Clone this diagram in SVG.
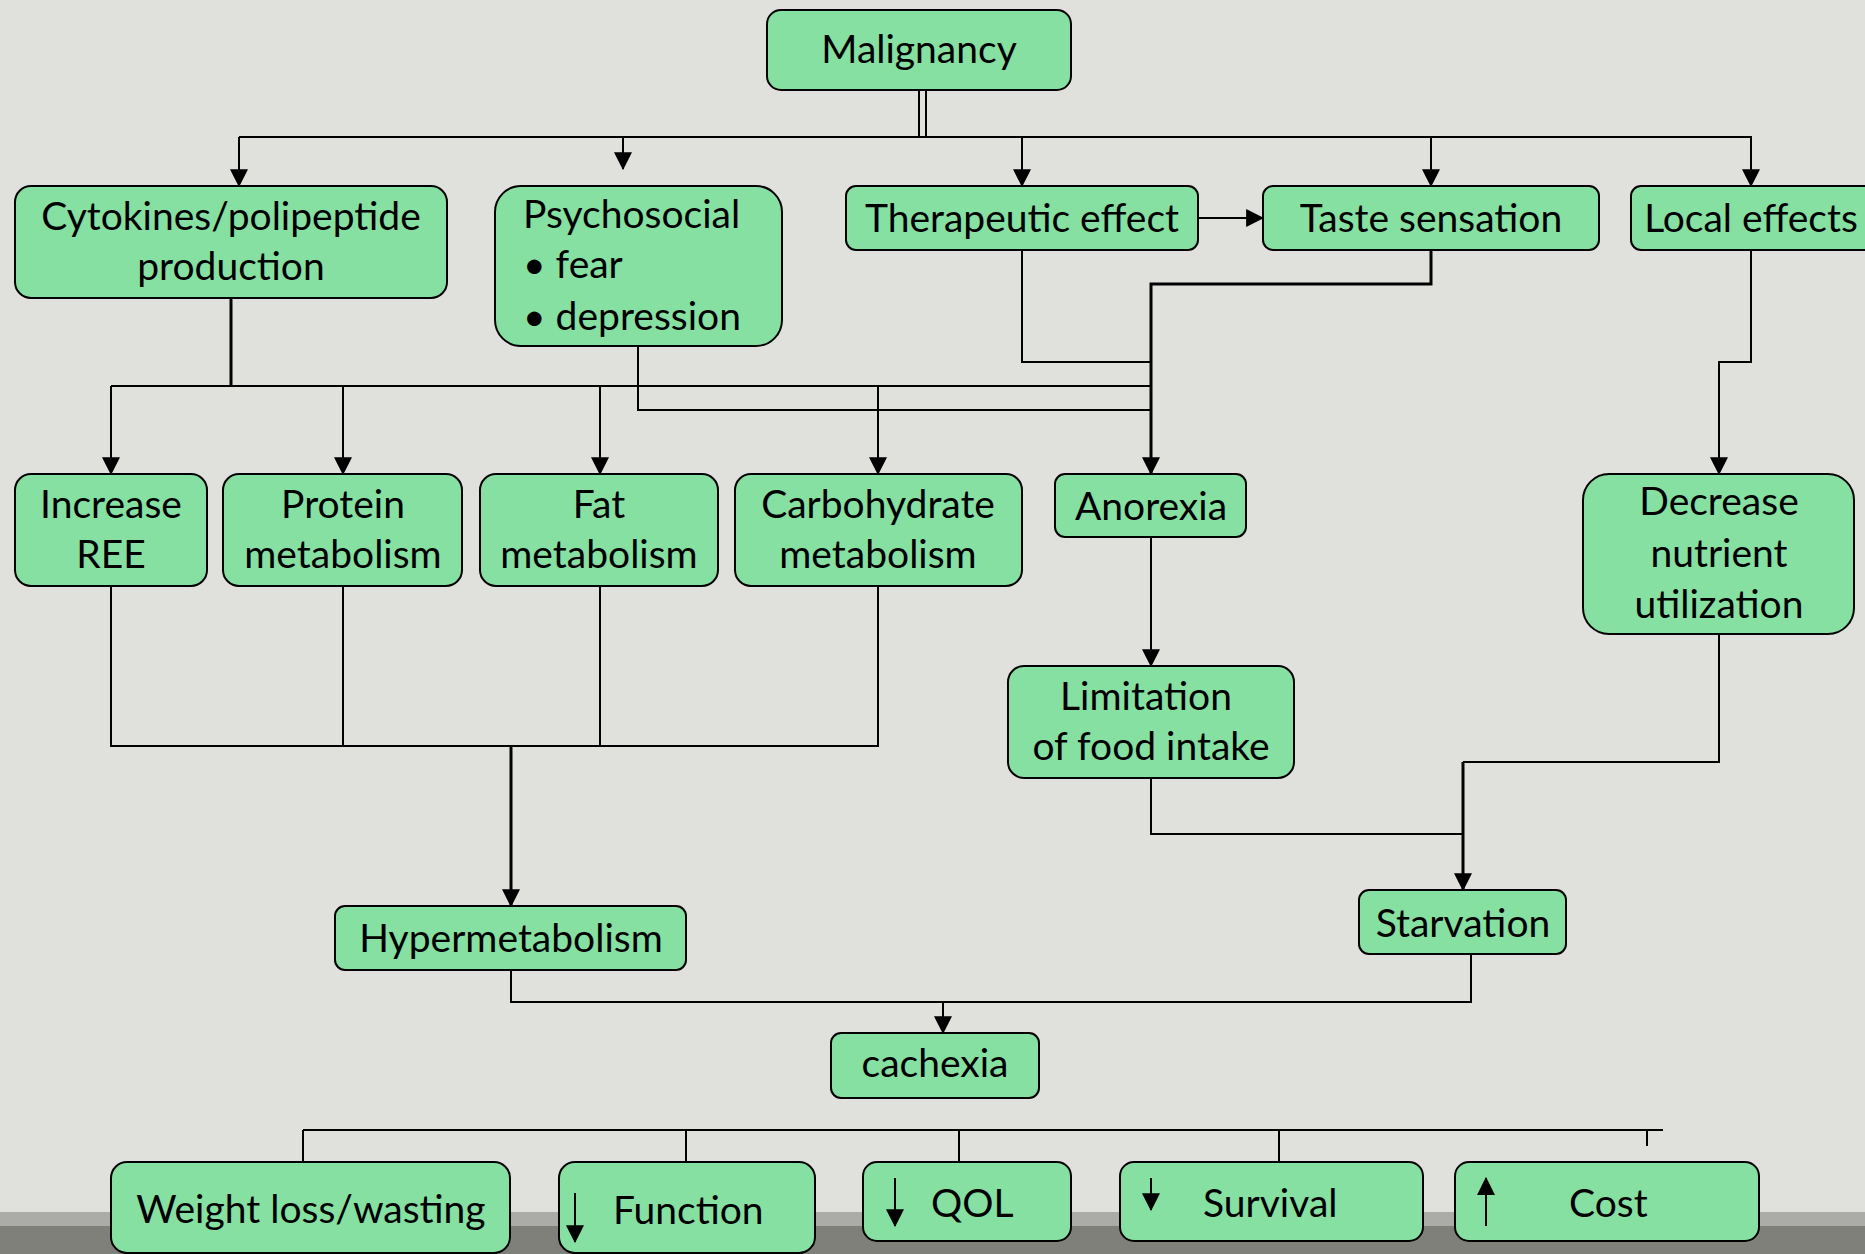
<svg xmlns="http://www.w3.org/2000/svg" width="1865" height="1254" viewBox="0 0 1865 1254">
<defs>
<marker id="ah" markerUnits="userSpaceOnUse" markerWidth="18" markerHeight="18" viewBox="0 0 16 16" refX="15" refY="8" orient="auto">
<path d="M0,0 L16,8 L0,16 Z" fill="#000"/>
</marker>
<style>
.bx{fill:#86E0A2;stroke:#000;stroke-width:2}
.t{font-family:Lato,"Open Sans",sans-serif;font-size:39px;fill:#000}
.c{text-anchor:middle}
.ln{fill:none;stroke:#000;stroke-width:2}
.th{stroke-width:3}
.ar{marker-end:url(#ah)}
</style>
</defs>
<rect width="1865" height="1254" fill="#E0E1DC"/>
<rect x="0" y="1212" width="1865" height="14" fill="#ABACA7"/>
<rect x="0" y="1226" width="1865" height="28" fill="#80807A"/>

<g id="connectors">
<path class="ln" d="M919,90 V137 M926,90 V137"/>
<path class="ln" d="M239,137 H1752"/>
<path class="ln ar" d="M239,137 V186"/>
<path class="ln ar" d="M623,137 V169"/>
<path class="ln ar" d="M1022,137 V186"/>
<path class="ln ar" d="M1431,137 V186"/>
<path class="ln ar" d="M1751,137 V186"/>
<path class="ln ar" d="M1198,218 H1263"/>
<path class="ln th" d="M231,298 V386"/>
<path class="ln" d="M111,386 H1151"/>
<path class="ln ar" d="M111,386 V474"/>
<path class="ln ar" d="M343,386 V474"/>
<path class="ln ar" d="M600,386 V474"/>
<path class="ln ar" d="M878,386 V474"/>
<path class="ln" d="M638,346 V410 H1151"/>
<path class="ln" d="M1022,250 V362 H1151"/>
<path class="ln th ar" d="M1431,250 V284 H1151 V474"/>
<path class="ln ar" d="M1751,250 V362 H1719 V474"/>
<path class="ln ar" d="M1151,537 V666"/>
<path class="ln" d="M111,586 V746 H878 V586 M343,586 V746 M600,586 V746"/>
<path class="ln th ar" d="M511,746 V906"/>
<path class="ln" d="M1151,778 V834 H1463"/>
<path class="ln" d="M1719,634 V762 H1463"/>
<path class="ln th ar" d="M1463,762 V890"/>
<path class="ln" d="M511,970 V1002 H1471 V954"/>
<path class="ln ar" d="M943,1002 V1033"/>
<path class="ln" d="M303,1130 H1663 M303,1130 V1162 M686,1130 V1162 M959,1130 V1162 M1279,1130 V1162 M1647,1130 V1146"/>
</g>

<g id="malignancy"><rect class="bx" x="767" y="10" width="304" height="80" rx="14"/><text class="t c" x="919" y="63">Malignancy</text></g>
<g id="cytokines"><rect class="bx" x="15" y="186" width="432" height="112" rx="16"/><text class="t c" x="231" y="230">Cytokines/polipeptide</text><text class="t c" x="231" y="280">production</text></g>
<g id="psychosocial"><rect class="bx" x="495" y="186" width="287" height="160" rx="26"/><text class="t" x="523" y="228">Psychosocial</text><text class="t" x="523" y="278">• fear</text><text class="t" x="523" y="330">• depression</text></g>
<g id="therapeutic"><rect class="bx" x="846" y="186" width="352" height="64" rx="10"/><text class="t c" x="1022" y="232">Therapeutic effect</text></g>
<g id="taste"><rect class="bx" x="1263" y="186" width="336" height="64" rx="10"/><text class="t c" x="1431" y="232">Taste sensation</text></g>
<g id="local"><rect class="bx" x="1631" y="186" width="244" height="64" rx="10"/><text class="t c" x="1751" y="232">Local effects</text></g>
<g id="ree"><rect class="bx" x="15" y="474" width="192" height="112" rx="16"/><text class="t c" x="111" y="518">Increase</text><text class="t c" x="111" y="568">REE</text></g>
<g id="protein"><rect class="bx" x="223" y="474" width="239" height="112" rx="16"/><text class="t c" x="343" y="518">Protein</text><text class="t c" x="343" y="568">metabolism</text></g>
<g id="fat"><rect class="bx" x="480" y="474" width="238" height="112" rx="16"/><text class="t c" x="599" y="518">Fat</text><text class="t c" x="599" y="568">metabolism</text></g>
<g id="carbohydrate"><rect class="bx" x="735" y="474" width="287" height="112" rx="16"/><text class="t c" x="878" y="518">Carbohydrate</text><text class="t c" x="878" y="568">metabolism</text></g>
<g id="anorexia"><rect class="bx" x="1055" y="474" width="191" height="63" rx="10"/><text class="t c" x="1151" y="520">Anorexia</text></g>
<g id="decrease"><rect class="bx" x="1583" y="474" width="271" height="160" rx="26"/><text class="t c" x="1719" y="515">Decrease</text><text class="t c" x="1719" y="567">nutrient</text><text class="t c" x="1719" y="618">utilization</text></g>
<g id="limitation"><rect class="bx" x="1008" y="666" width="286" height="112" rx="16"/><text class="t c" x="1146" y="710">Limitation</text><text class="t c" x="1151" y="760">of food intake</text></g>
<g id="hypermetabolism"><rect class="bx" x="335" y="906" width="351" height="64" rx="10"/><text class="t c" x="511" y="952">Hypermetabolism</text></g>
<g id="starvation"><rect class="bx" x="1359" y="890" width="207" height="64" rx="10"/><text class="t c" x="1463" y="937">Starvation</text></g>
<g id="cachexia"><rect class="bx" x="831" y="1033" width="208" height="65" rx="10"/><text class="t c" x="935" y="1077">cachexia</text></g>
<g id="weightloss"><rect class="bx" x="111" y="1162" width="399" height="91" rx="16"/><text class="t c" x="311" y="1223">Weight loss/wasting</text></g>
<g id="function"><rect class="bx" x="559" y="1162" width="256" height="91" rx="16"/><path class="ln ar" d="M575,1193 V1242"/><text class="t" x="613" y="1224">Function</text></g>
<g id="qol"><rect class="bx" x="863" y="1162" width="208" height="79" rx="14"/><path class="ln ar" d="M895,1178 V1226"/><text class="t" x="931" y="1217">QOL</text></g>
<g id="survival"><rect class="bx" x="1120" y="1162" width="303" height="79" rx="14"/><path class="ln ar" d="M1151,1178 V1210"/><text class="t" x="1203" y="1217">Survival</text></g>
<g id="cost"><rect class="bx" x="1455" y="1162" width="304" height="79" rx="14"/><path class="ln ar" d="M1486,1226 V1178"/><text class="t" x="1569" y="1217">Cost</text></g>
</svg>
